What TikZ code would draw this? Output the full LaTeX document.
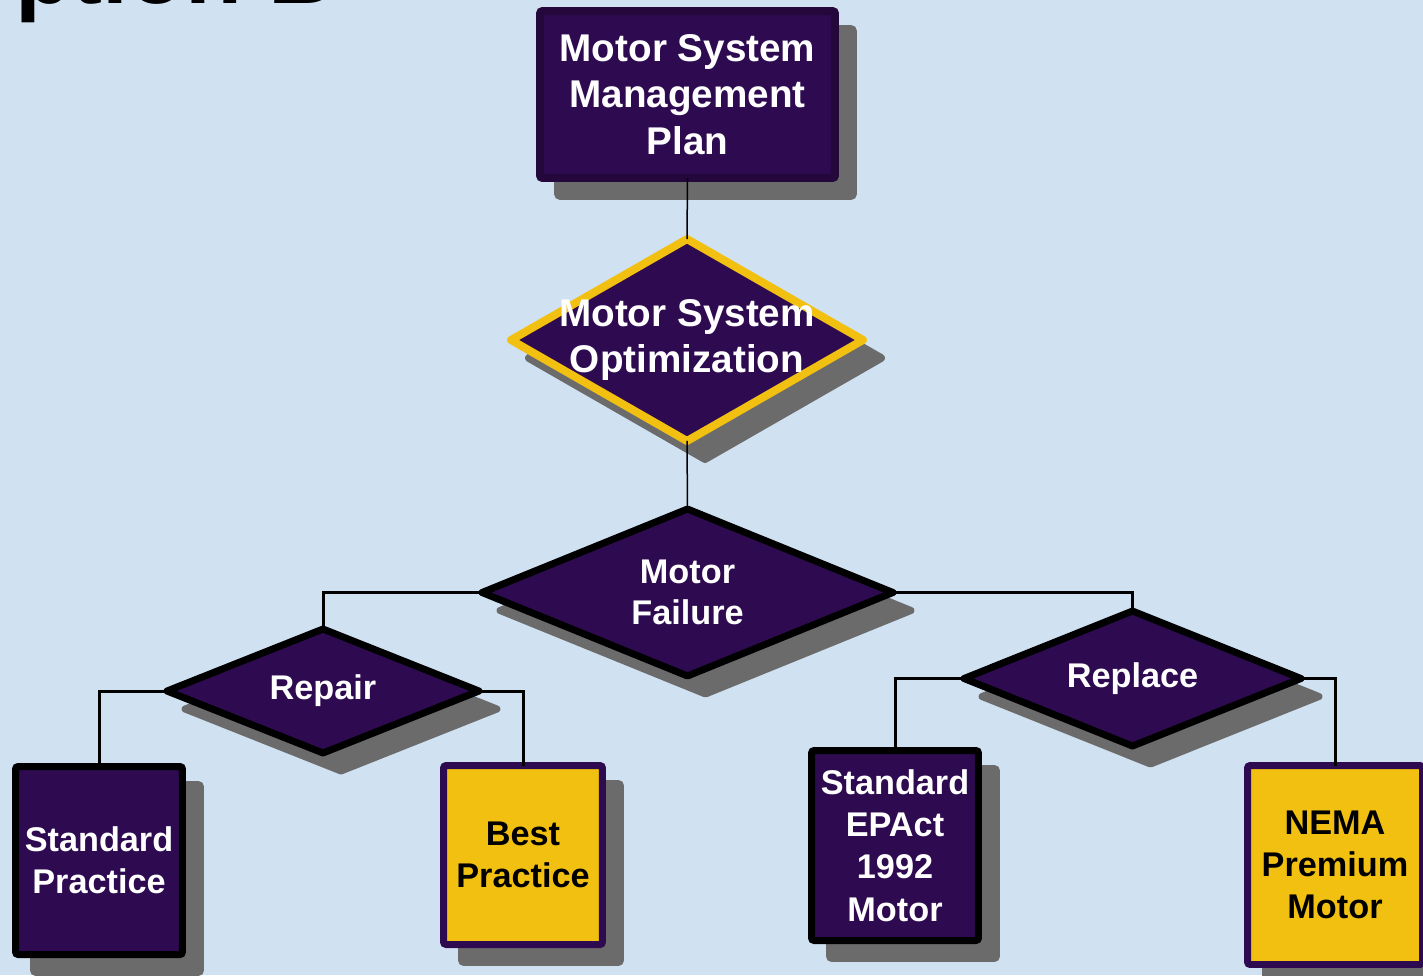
\documentclass[tikz,border=0pt]{standalone}
\usepackage{fontspec}
\setmainfont{Liberation Sans}
\usetikzlibrary{shapes.geometric}
\usetikzlibrary{shadows}
\definecolor{bgblue}{RGB}{208,226,242}
\definecolor{plum}{RGB}{46,11,80}
\definecolor{darkplum}{RGB}{36,8,60}
\definecolor{gold}{RGB}{242,192,16}
\definecolor{shadowgray}{RGB}{107,107,107}

\begin{document}
\begin{tikzpicture}[x=0.02cm,y=-0.02cm,
    shadowed/.style={drop shadow={shadow xshift=0.36cm,shadow yshift=-0.36cm,opacity=1,fill=shadowgray,draw=shadowgray}},
    box/.style={shadowed,draw,line width=0.14cm,rounded corners=1.5pt,inner sep=0pt,outer sep=0pt,
      align=center,font=\bfseries\fontsize{19.5}{24}\selectfont},
    darkbox/.style={box,fill=plum,text=white},
    goldbox/.style={box,draw=plum,fill=gold,text=black},
    choice/.style={shadowed,diamond,draw,fill=plum,line width=0.14cm,line join=round,inner sep=0pt,outer sep=0pt},
    tag/.style={text=white,align=center,inner sep=0pt,font=\bfseries\fontsize{19.5}{23.2}\selectfont},
    bigtag/.style={tag,font=\bfseries\fontsize{22}{26.6}\selectfont},
    link/.style={line width=0.06cm},
    stem/.style={line width=0.03cm}]

        \useasboundingbox (0,0) rectangle (1423,975);
        \clip (0,0) rectangle (1423,975);
        \fill[bgblue] (0,0) rectangle (1423,975);

        \node[anchor=base east,inner sep=0pt,font=\bfseries\fontsize{53}{60}\selectfont] (title) at (336,3) {Option B};

        \node[darkbox,draw=darkplum,line width=0.16cm,minimum width=5.9cm,minimum height=3.34cm,
          font=\bfseries\fontsize{22}{26.6}\selectfont] (plan) at (687.5,94.5) {Motor System\\Management\\Plan};

        \node[choice,draw=gold,line width=0.16cm,minimum width=7.04cm,minimum height=4.04cm] (optim) at (687,340) {};
        \node[bigtag] (optimtxt) at (optim) {Motor System\\Optimization};

        \node[choice,minimum width=8.22cm,minimum height=3.34cm] (failure) at (687.5,592.5) {};
        \node[tag] (failuretxt) at (failure) {Motor\\Failure};

        \node[choice,minimum width=6.24cm,minimum height=2.48cm] (repair) at (323,691) {};
        \node[tag] (repairtxt) at (repair) {Repair};

        \node[choice,minimum width=6.74cm,minimum height=2.7cm] (replace) at (1132.5,678.5) {};
        \node[tag] (replacetxt) at (replace) {Replace};

        \node[darkbox,minimum width=3.34cm,minimum height=3.76cm] (stdprac) at (99,860.5) {Standard\\Practice};
        \node[goldbox,minimum width=3.18cm,minimum height=3.58cm] (bestprac) at (523,855) {Best\\Practice};
        \node[darkbox,minimum width=3.34cm,minimum height=3.8cm] (epact) at (895,845.5) {Standard\\EPAct\\1992\\Motor};
        \node[goldbox,minimum width=3.5cm,minimum height=3.98cm] (nema) at (1335,865) {NEMA\\Premium\\Motor};

        \draw[stem] (plan.south) -- (optim.north);
        \draw[stem] (optim.south) -- (failure.north);
        \draw[link] (failure.west) -| (repair.north);
        \draw[link] (failure.east) -| (replace.north);
        \draw[link] (repair.west) -| (stdprac.north);
        \draw[link] (repair.east) -| (bestprac.north);
        \draw[link] (replace.west) -| (epact.north);
        \draw[link] (replace.east) -| (nema.north);
\end{tikzpicture}
\end{document}
